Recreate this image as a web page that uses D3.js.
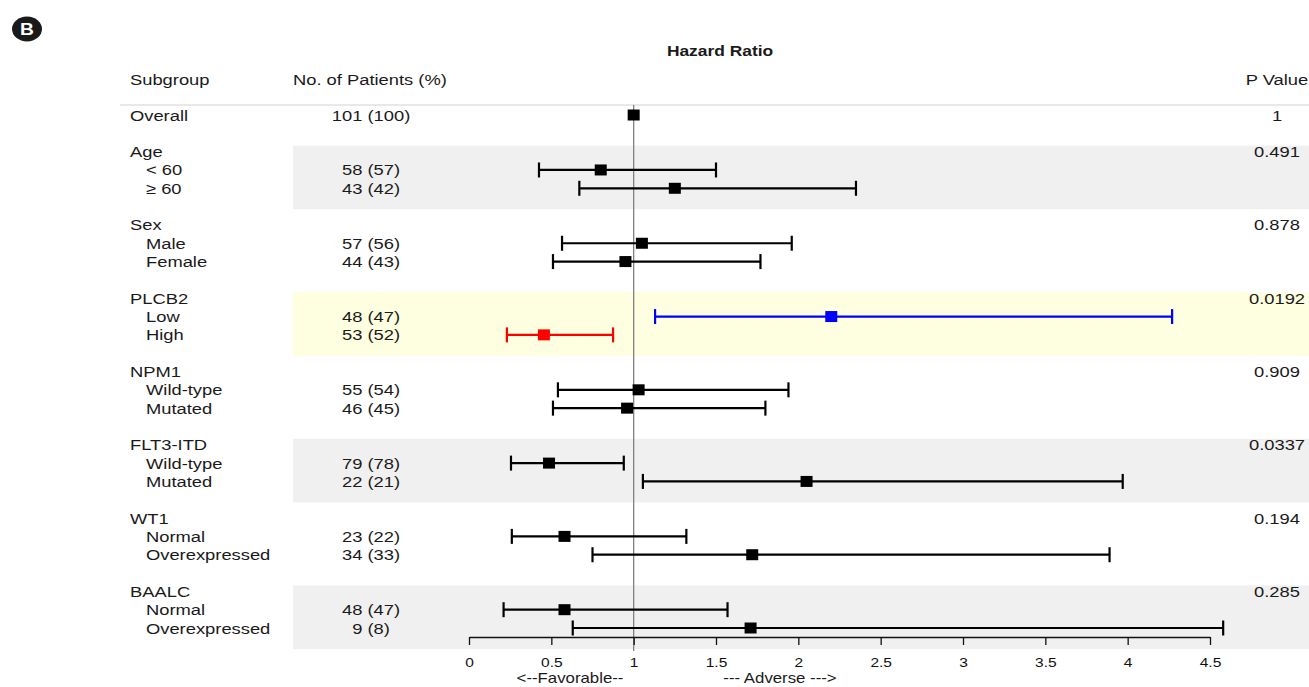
<!DOCTYPE html>
<html>
<head>
<meta charset="utf-8">
<script src="https://cdn.jsdelivr.net/npm/d3@7"></script>
<style>
  body { margin: 0; background: #fff; }
  svg { display: block; font-family: "Liberation Sans", Arial, sans-serif; }
</style>
</head>
<body>
<div id="chart"></div>
<script>
// data
const overall = { label: "Overall", n: "101 (100)", hr: 1.0, lo: 1.0, hi: 1.0, p: "1" };

const groups = ["Age", "Sex", "PLCB2", "NPM1", "FLT3-ITD", "WT1", "BAALC"];
const levels = [
  ["< 60", "\u2265 60"],
  ["Male", "Female"],
  ["Low", "High"],
  ["Wild-type", "Mutated"],
  ["Wild-type", "Mutated"],
  ["Normal", "Overexpressed"],
  ["Normal", "Overexpressed"]
];
const patients = [
  ["58 (57)", "43 (42)"],
  ["57 (56)", "44 (43)"],
  ["48 (47)", "53 (52)"],
  ["55 (54)", "46 (45)"],
  ["79 (78)", "22 (21)"],
  ["23 (22)", "34 (33)"],
  ["48 (47)", "9 (8)"]
];
const hazard = [[0.80, 1.25], [1.05, 0.95], [2.20, 0.455], [1.03, 0.96], [0.486, 2.05], [0.58, 1.72], [0.58, 1.71]];
const lower  = [[0.425, 0.67], [0.565, 0.51], [1.13, 0.23], [0.54, 0.51], [0.255, 1.056], [0.26, 0.75], [0.21, 0.63]];
const upper  = [[1.50, 2.35], [1.96, 1.77], [4.27, 0.875], [1.94, 1.80], [0.94, 3.97], [1.32, 3.89], [1.57, 4.58]];
const pValues = ["0.491", "0.878", "0.0192", "0.909", "0.0337", "0.194", "0.285"];
const xTicks = [0, 0.5, 1, 1.5, 2, 2.5, 3, 3.5, 4, 4.5];

const W = 1309, H = 687;
const stretch = 1.2;   // the source figure is widened horizontally

const svg = d3.select("#chart").append("svg")
    .attr("width", W)
    .attr("height", H);

const x = d3.scaleLinear().domain([0, 4.5]).range([469, 1210]);
const y = d3.scaleLinear().domain([0, 28]).range([115, 628]);   // row index -> center

function label(txt, tx, ty, anchor, size, weight) {
  svg.append("text")
    .attr("transform", `translate(${tx},${ty}) scale(${stretch},1)`)
    .attr("text-anchor", anchor || "start")
    .attr("dy", "0.36em")
    .attr("font-size", size || 15.3)
    .attr("font-weight", weight || "normal")
    .attr("fill", "#1a1a1a")
    .text(txt);
}

// rows
let rows = [];
groups.forEach((g, i) => {
  const hRow = 2 + 4 * i;
  rows.push({ type: "head", group: i, row: hRow, label: g });
  levels[i].forEach((lv, j) => {
    rows.push({ type: "sub", group: i, idx: j, row: hRow + 1 + j, label: lv,
                n: patients[i][j], hr: hazard[i][j], lo: lower[i][j], hi: upper[i][j] });
  });
});

// band backgrounds
const bands = svg.append("g");
groups.forEach((g, i) => {
  let fill = null;
  if (g === "PLCB2") fill = "#fefee0";
  else if (i % 2 === 0) fill = "#f0f0f0";
  if (!fill) return;
  const hRow = 2 + 4 * i;
  bands.append("rect")
    .attr("x", 293)
    .attr("y", y(hRow) - 6)
    .attr("width", W - 293)
    .attr("height", y(hRow + 2) + 21 - (y(hRow) - 6))
    .attr("fill", fill);
});

// header separator
svg.append("line")
  .attr("x1", 120).attr("x2", W)
  .attr("y1", 105).attr("y2", 105)
  .attr("stroke", "#e8e8e8").attr("stroke-width", 2);

// badge
svg.append("ellipse").attr("cx", 27).attr("cy", 29).attr("rx", 15).attr("ry", 12.5).attr("fill", "#1a1a1a");
svg.append("text")
  .attr("transform", `translate(27,29) scale(${stretch},1)`)
  .attr("text-anchor", "middle").attr("dy", "0.36em")
  .attr("font-size", 16).attr("font-weight", "bold").attr("fill", "#fff")
  .text("B");

// headers
label("Hazard Ratio", 720, 51, "middle", 14.5, "bold");
label("Subgroup", 130, 79, "start");
label("No. of Patients (%)", 293, 79, "start");
label("P Value", 1277, 79, "middle");

// reference line at HR = 1
svg.append("line")
  .attr("x1", x(1)).attr("x2", x(1))
  .attr("y1", 105).attr("y2", 651)
  .attr("stroke", "#808080").attr("stroke-width", 1.3);

// axis
const axis = svg.append("g")
  .attr("transform", "translate(0,637)")
  .call(d3.axisBottom(x).tickValues(xTicks).tickSize(8).tickSizeOuter(0).tickPadding(12)
          .tickFormat(d3.format("~g")));
axis.select(".domain").attr("stroke", "#111").attr("stroke-width", 1.3);
axis.selectAll(".tick line").attr("stroke", "#111").attr("stroke-width", 1.3);
axis.selectAll(".tick text")
  .attr("font-size", 13.5)
  .attr("font-family", "'Liberation Sans Narrow', 'Liberation Sans', Arial, sans-serif")
  .attr("fill", "#111")
  .attr("transform", "scale(1.15,1)");

label("<--Favorable--", 570, 678, "middle", 14);
label("--- Adverse --->", 780, 678, "middle", 14);

// overall row
label(overall.label, 130, y(0), "start");
label(overall.n, 371, y(0), "middle");
label(overall.p, 1277, y(0), "middle");

// group rows
rows.forEach(r => {
  if (r.type === "head") {
    label(r.label, 130, y(r.row), "start");
    label(pValues[r.group], 1277, y(r.row), "middle");
  } else {
    label(r.label, 146, y(r.row), "start");
    label(r.n, 371, y(r.row), "middle");
  }
});

// estimates
const marks = rows.filter(r => r.type === "sub");
function colorOf(r) {
  if (groups[r.group] !== "PLCB2") return "#000";
  return r.idx === 0 ? "#0000ff" : "#ff0000";
}
const ci = svg.append("g").selectAll("g")
  .data(marks)
  .join("g")
  .attr("stroke", colorOf)
  .attr("stroke-width", 2.2);
ci.append("line")
  .attr("x1", d => x(d.lo)).attr("x2", d => x(d.hi))
  .attr("y1", d => y(d.row)).attr("y2", d => y(d.row));
ci.append("line")
  .attr("x1", d => x(d.lo)).attr("x2", d => x(d.lo))
  .attr("y1", d => y(d.row) - 7.5).attr("y2", d => y(d.row) + 7.5);
ci.append("line")
  .attr("x1", d => x(d.hi)).attr("x2", d => x(d.hi))
  .attr("y1", d => y(d.row) - 7.5).attr("y2", d => y(d.row) + 7.5);

const boxW = 12, boxH = 11;
svg.append("g").selectAll("rect")
  .data([{ row: 0, hr: overall.hr, group: -1 }].concat(marks))
  .join("rect")
  .attr("x", d => x(d.hr) - boxW / 2)
  .attr("y", d => y(d.row) - boxH / 2)
  .attr("width", boxW)
  .attr("height", boxH)
  .attr("fill", d => d.group < 0 ? "#000" : colorOf(d));
</script>
</body>
</html>
